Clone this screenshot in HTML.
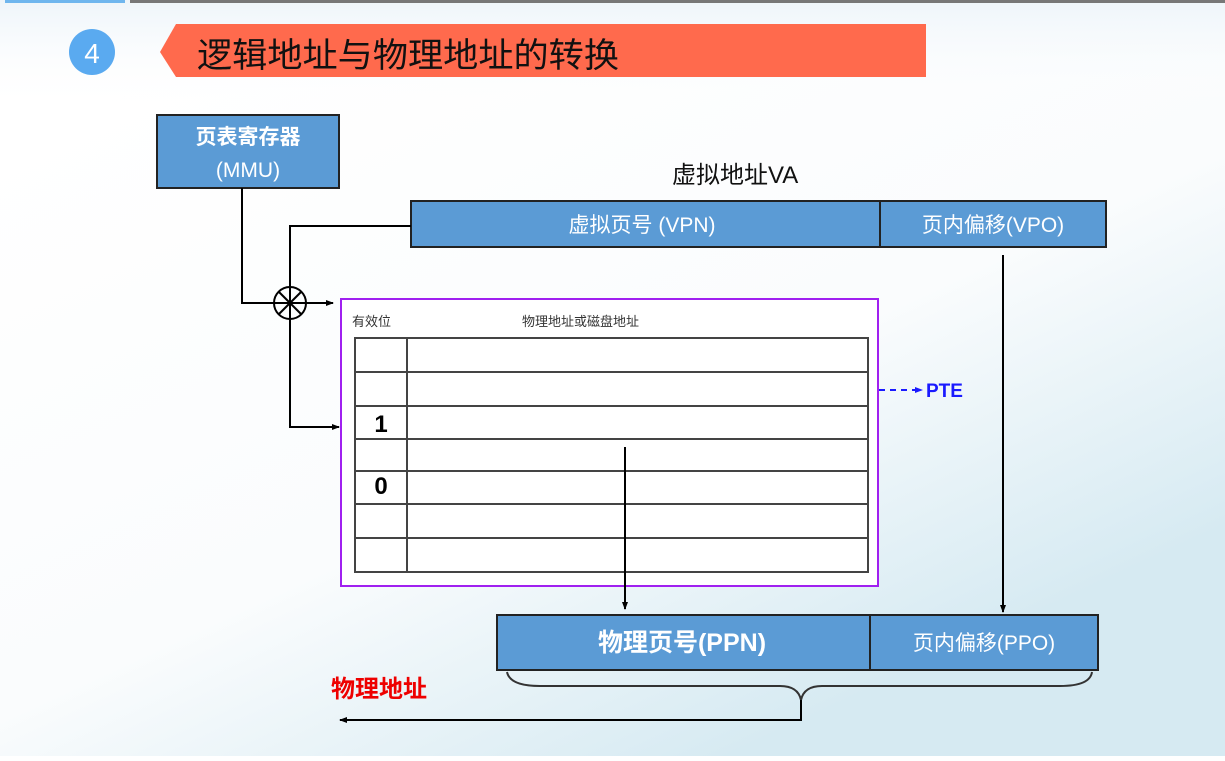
<!DOCTYPE html>
<html><head><meta charset="utf-8"><style>
html,body{margin:0;padding:0;}
body{width:1225px;height:756px;overflow:hidden;background:#fff;}
svg text{font-family:"Liberation Sans","Noto Sans CJK SC",sans-serif;}
</style></head><body>
<svg width="1225" height="756" viewBox="0 0 1225 756" xmlns="http://www.w3.org/2000/svg">
<defs>
<linearGradient id="bg" x1="0" y1="0.2" x2="0.6" y2="1">
<stop offset="0" stop-color="#ffffff"/><stop offset="0.6" stop-color="#fafcfd"/><stop offset="1" stop-color="#d6eaf2"/>
</linearGradient>
<linearGradient id="top" x1="0" y1="0" x2="0" y2="1">
<stop offset="0" stop-color="#eef5fa"/><stop offset="1" stop-color="#ffffff" stop-opacity="0"/>
</linearGradient>
<marker id="ar" markerWidth="8" markerHeight="8" refX="7" refY="4" orient="auto" markerUnits="userSpaceOnUse"><path d="M0,1 L8,4 L0,7 z" fill="#000"/></marker>
<marker id="arb" markerWidth="8" markerHeight="8" refX="7" refY="4" orient="auto" markerUnits="userSpaceOnUse"><path d="M0,1 L8,4 L0,7 z" fill="#1a1aff"/></marker>
</defs>
<rect width="1225" height="756" fill="url(#bg)"/>
<rect width="1225" height="110" fill="url(#top)"/>
<rect x="5" y="0" width="120" height="3" fill="#6fb6ee"/>
<rect x="130" y="0" width="1095" height="3" fill="#777"/>
<circle cx="92" cy="52" r="23" fill="#5aaaf0"/>
<text x="92" y="63" font-size="28" fill="#fff" text-anchor="middle">4</text>
<polygon points="160,52 176,24 926,24 926,77 176,77" fill="#ff6a4d"/>
<text x="197" y="67" font-size="34" fill="#111" textLength="422" lengthAdjust="spacingAndGlyphs">逻辑地址与物理地址的转换</text>

<rect x="157" y="115" width="182" height="73" fill="#5b9bd5" stroke="#222" stroke-width="2"/>
<text x="248" y="144" font-size="21" fill="#fff" text-anchor="middle" font-weight="bold">页表寄存器</text>
<text x="248" y="177" font-size="21" fill="#fff" text-anchor="middle" font-family="Liberation Serif">(MMU)</text>

<text x="672" y="183" font-size="24" fill="#111">虚拟地址VA</text>
<rect x="411" y="201" width="469" height="46" fill="#5b9bd5" stroke="#222" stroke-width="2"/>
<rect x="880" y="201" width="226" height="46" fill="#5b9bd5" stroke="#222" stroke-width="2"/>
<text x="642" y="232" font-size="21" fill="#fff" text-anchor="middle">虚拟页号 (VPN)</text>
<text x="993" y="232" font-size="21" fill="#fff" text-anchor="middle">页内偏移(VPO)</text>

<g stroke="#000" stroke-width="2" fill="none">
<polyline points="242,188 242,303 333,303" marker-end="url(#ar)"/>
<polyline points="411,226 290,226 290,427 339,427" marker-end="url(#ar)"/>
<circle cx="290" cy="303" r="16" fill="none"/>
<line x1="279" y1="292" x2="301" y2="314"/>
<line x1="301" y1="292" x2="279" y2="314"/>
<line x1="1003" y1="255" x2="1003" y2="612" marker-end="url(#ar)"/>
</g>

<rect x="341" y="299" width="537" height="287" fill="#fff" stroke="#a020f0" stroke-width="2"/>
<text x="352" y="326" font-size="13" fill="#333">有效位</text>
<text x="522" y="326" font-size="13" fill="#333">物理地址或磁盘地址</text>
<g stroke="#444" stroke-width="2" fill="none">
<rect x="355" y="338" width="513" height="234"/>
<line x1="407" y1="338" x2="407" y2="572"/>
<line x1="355" y1="372" x2="868" y2="372"/>
<line x1="355" y1="406" x2="868" y2="406"/>
<line x1="355" y1="439" x2="868" y2="439"/>
<line x1="355" y1="471" x2="868" y2="471"/>
<line x1="355" y1="504" x2="868" y2="504"/>
<line x1="355" y1="538" x2="868" y2="538"/>
</g>
<line x1="625" y1="447" x2="625" y2="609" stroke="#000" stroke-width="2" marker-end="url(#ar)"/>
<text x="381" y="432" font-size="24" font-weight="bold" font-family="Liberation Serif" text-anchor="middle">1</text>
<text x="381" y="494" font-size="24" font-weight="bold" font-family="Liberation Serif" text-anchor="middle">0</text>

<line x1="879" y1="390" x2="922" y2="390" stroke="#1a1aff" stroke-width="2" stroke-dasharray="6,5" marker-end="url(#arb)"/>
<text x="926" y="397" font-size="19" font-weight="bold" fill="#1a1aff" font-family="Liberation Serif">PTE</text>

<rect x="497" y="615" width="373" height="55" fill="#5b9bd5" stroke="#222" stroke-width="2"/>
<rect x="870" y="615" width="228" height="55" fill="#5b9bd5" stroke="#222" stroke-width="2"/>
<text x="682" y="651" font-size="25" fill="#fff" text-anchor="middle" font-weight="bold">物理页号(PPN)</text>
<text x="984" y="650" font-size="21" fill="#fff" text-anchor="middle">页内偏移(PPO)</text>

<path d="M507,672 Q510,686 540,686 L780,686 Q798,686 801,700 Q804,686 822,686 L1060,686 Q1090,686 1092,672" fill="none" stroke="#333" stroke-width="2"/>
<polyline points="801,700 801,720 340,720" fill="none" stroke="#000" stroke-width="2" marker-end="url(#ar)"/>
<text x="331" y="697" font-size="24" font-weight="bold" fill="#ee0000">物理地址</text>
</svg>
</body></html>
